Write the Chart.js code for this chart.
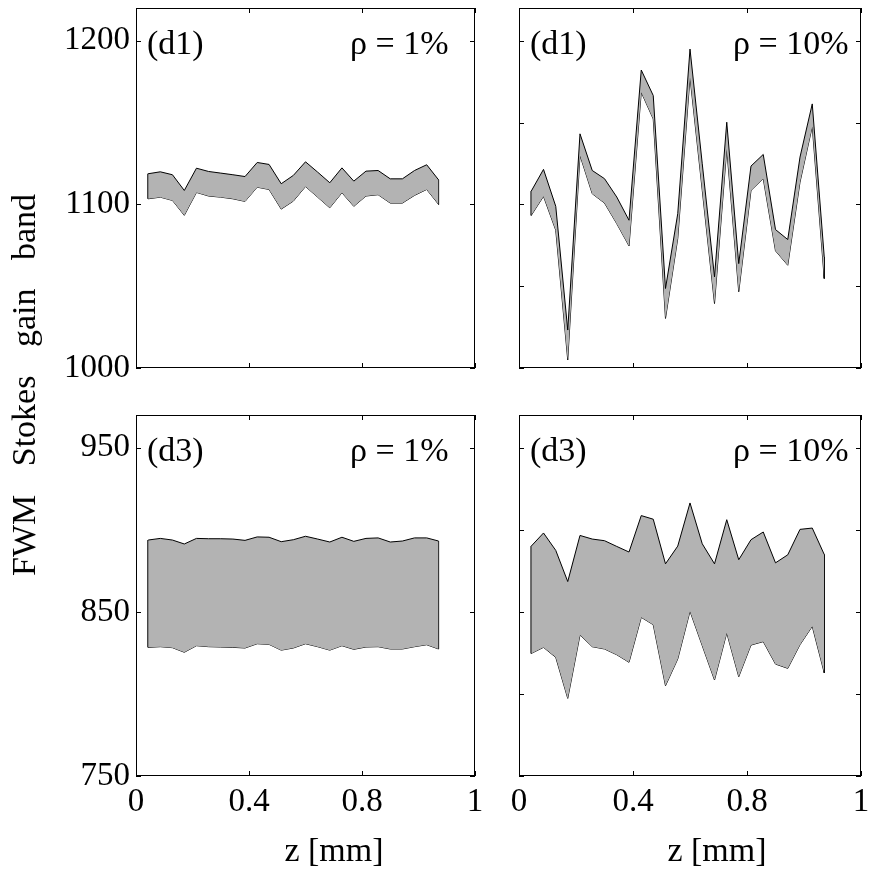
<!DOCTYPE html>
<html>
<head>
<meta charset="utf-8">
<script src="https://cdn.jsdelivr.net/npm/chart.js@4/dist/chart.umd.min.js"></script>
<style>
  body { margin: 0; background: #fff; width: 879px; height: 879px; overflow: hidden; position: relative; }
  canvas { position: absolute; }
  #yTitle {
    position: absolute; left: 24px; top: 385px;
    transform: translate(-50%, -50%) rotate(-90deg);
    font: 34px "Liberation Serif", serif; word-spacing: 20px; white-space: nowrap; color: #000;
  }
</style>
</head>
<body>
<canvas id="d1Rho1"></canvas>
<canvas id="d1Rho10"></canvas>
<canvas id="d3Rho1"></canvas>
<canvas id="d3Rho10"></canvas>
<div id="yTitle">FWM Stokes gain band</div>
<script>
// z positions along the fibre
const zValues = [0.043, 0.086, 0.129, 0.171, 0.214, 0.257, 0.300, 0.343, 0.386, 0.429, 0.471, 0.514, 0.557,
  0.600, 0.643, 0.686, 0.729, 0.771, 0.814, 0.857, 0.900, 0.943, 0.986, 1.029, 1.071];
const zTicks = [0, 0.4, 0.8, 1.2];
const zTickLabels = ['0', '0.4', '0.8', '1'];

// (d1) band edges
const d1Rho1Upper = [1118.7, 1119.9, 1118.1, 1108.5, 1122.1, 1120.1, 1119.1, 1118.1, 1117.0, 1125.6, 1124.4, 1112.6, 1117.7,
  1126.0, 1119.7, 1113.2, 1122.3, 1114.2, 1120.3, 1120.7, 1115.6, 1115.6, 1120.7, 1124.2, 1115.0];
const d1Rho1Lower = [1103.4, 1104.4, 1102.4, 1093.3, 1107.3, 1105.1, 1104.4, 1103.4, 1101.8, 1110.5, 1109.1, 1097.1, 1102.0,
  1110.9, 1104.4, 1097.9, 1107.1, 1098.8, 1105.1, 1105.9, 1100.8, 1100.8, 1105.5, 1109.1, 1100.0];
const d1Rho10Upper = [1108.1, 1121.4, 1098.8, 1023.2, 1143.1, 1120.7, 1115.7, 1104.5, 1090.3, 1182.1, 1166.5, 1048.6, 1094.3,
  1194.9, 1124.8, 1055.7, 1150.2, 1063.8, 1123.4, 1130.5, 1084.6, 1078.5, 1128.9, 1161.4, 1067.9];
const d1Rho10Lower = [1093.3, 1104.9, 1084.2, 1004.9, 1129.9, 1106.5, 1100.8, 1088.2, 1074.6, 1168.5, 1152.2, 1030.3, 1079.1,
  1177.7, 1108.6, 1039.4, 1133.9, 1046.6, 1108.5, 1115.7, 1071.6, 1062.8, 1113.6, 1147.6, 1054.7];

// (d3) band edges
const d3Rho1Upper = [893.8, 894.8, 893.8, 891.4, 894.8, 894.6, 894.6, 894.4, 893.6, 895.7, 895.5, 892.8, 894.0,
  896.1, 894.4, 892.6, 895.5, 893.0, 894.8, 895.1, 892.6, 893.2, 895.1, 895.1, 893.2];
const d3Rho1Lower = [828.4, 828.8, 828.2, 825.4, 829.4, 828.8, 828.6, 828.4, 828.0, 830.6, 830.2, 826.7, 828.0,
  830.6, 828.8, 826.7, 829.4, 827.2, 828.6, 828.8, 827.4, 827.4, 828.8, 830.0, 827.4];
const d3Rho10Upper = [890.1, 898.1, 887.5, 868.5, 896.6, 894.4, 893.4, 889.9, 886.5, 908.7, 906.5, 879.3, 890.1,
  916.4, 891.5, 879.3, 906.2, 881.8, 894.0, 898.7, 879.9, 884.8, 900.3, 901.1, 885.0];
const d3Rho10Lower = [824.7, 828.4, 822.3, 797.3, 835.9, 828.8, 827.4, 823.9, 819.3, 846.7, 842.2, 805.0, 821.3,
  850.4, 829.4, 808.5, 837.2, 810.5, 829.8, 831.9, 818.2, 815.6, 830.0, 841.2, 812.9];

// y axes
const d1Range = [1000, 1220];
const d1LabelTicks = [1000, 1100, 1200];
const d1FineTicks = [1000, 1050, 1100, 1150, 1200];
const d3Range = [750, 970];
const d3LabelTicks = [750, 850, 950];
const d3FineTicks = [750, 800, 850, 900, 950];

const FONT = '"Liberation Serif", serif';
const bandGrey = '#b3b3b3';

// Build the band: upper edge filled down to lower edge, plus both end caps
function bandDatasets(upper, lower) {
  const up = zValues.map((z, i) => ({ x: z, y: upper[i] }));
  const lo = zValues.map((z, i) => ({ x: z, y: lower[i] }));
  const last = zValues.length - 1;
  const line = { borderColor: '#000', borderWidth: 1, pointRadius: 0, tension: 0, fill: false };
  return [
    { ...line, data: up, fill: '+1', backgroundColor: bandGrey },
    { ...line, data: lo },
    { ...line, data: [up[0], lo[0]] },
    { ...line, data: [up[last], lo[last]] }
  ];
}

// Frame, inward ticks and panel text
function framePlugin(yTicks, tagText, rhoText, showXTitle) {
  return {
    id: 'frame',
    afterDatasetsDraw(chart) {
      const { ctx, chartArea: a, scales: { x, y } } = chart;
      ctx.save();
      ctx.strokeStyle = '#000';
      ctx.lineWidth = 1;
      ctx.strokeRect(a.left + 0.5, a.top + 0.5, a.right - a.left - 1, a.bottom - a.top - 1);
      ctx.beginPath();
      zTicks.forEach(v => {
        const px = Math.round(x.getPixelForValue(v)) + 0.5;
        ctx.moveTo(px, a.bottom); ctx.lineTo(px, a.bottom - 5);
        ctx.moveTo(px, a.top); ctx.lineTo(px, a.top + 5);
      });
      yTicks.forEach(v => {
        const py = Math.round(y.getPixelForValue(v)) + 0.5;
        ctx.moveTo(a.left, py); ctx.lineTo(a.left + 5, py);
        ctx.moveTo(a.right, py); ctx.lineTo(a.right - 5, py);
      });
      ctx.stroke();

      ctx.fillStyle = '#000';
      ctx.font = '34px ' + FONT;
      ctx.textBaseline = 'alphabetic';
      ctx.textAlign = 'left';
      ctx.fillText(tagText, a.left + 11, a.top + 46);
      ctx.fillText(rhoText, a.left + 214, a.top + 46);
      if (showXTitle) {
        ctx.textAlign = 'center';
        ctx.fillText('z [mm]', a.left + 198, a.bottom + 85);
      }
      ctx.restore();
    }
  };
}

// area = plot frame in page pixels; yAxisW / xAxisH = room kept for tick labels
function makePanel(id, area, pad, cfg) {
  const canvas = document.getElementById(id);
  canvas.width = area.R - area.L + pad.left + pad.right + cfg.yAxisW;
  canvas.height = area.B - area.T + pad.top + pad.bottom + cfg.xAxisH;
  canvas.style.left = (area.L - pad.left - cfg.yAxisW) + 'px';
  canvas.style.top = (area.T - pad.top) + 'px';

  return new Chart(canvas.getContext('2d'), {
    type: 'line',
    data: { datasets: bandDatasets(cfg.upper, cfg.lower) },
    options: {
      responsive: false,
      animation: false,
      devicePixelRatio: 1,
      layout: { padding: pad },
      plugins: { legend: { display: false }, tooltip: { enabled: false } },
      scales: {
        x: {
          type: 'linear', min: 0, max: 1.2,
          grid: { display: false, drawTicks: false },
          border: { display: false },
          afterBuildTicks: s => { s.ticks = zTicks.map(v => ({ value: v })); },
          afterFit: s => { s.height = cfg.xAxisH; },
          ticks: {
            display: cfg.showX, padding: 7, color: '#000', autoSkip: false, maxRotation: 0,
            font: { family: FONT, size: 33 },
            callback: (v, i) => zTickLabels[i]
          }
        },
        y: {
          type: 'linear', min: cfg.range[0], max: cfg.range[1],
          grid: { display: false, drawTicks: false },
          border: { display: false },
          afterBuildTicks: s => { s.ticks = cfg.labelTicks.map(v => ({ value: v })); },
          afterFit: s => { s.width = cfg.yAxisW; },
          ticks: {
            display: cfg.showY, padding: 6, color: '#000', autoSkip: false,
            font: { family: FONT, size: 33 },
            callback: v => String(v)
          }
        }
      }
    },
    plugins: [framePlugin(cfg.tickMarks, cfg.tag, cfg.rho, cfg.showX)]
  });
}

makePanel('d1Rho1', { L: 136, T: 8, R: 475, B: 368 }, { left: 0, top: 30, right: 30, bottom: 30 }, {
  upper: d1Rho1Upper, lower: d1Rho1Lower, range: d1Range, labelTicks: d1LabelTicks, tickMarks: d1LabelTicks,
  showX: false, showY: true, yAxisW: 136, xAxisH: 0, tag: '(d1)', rho: 'ρ = 1%'
});
makePanel('d1Rho10', { L: 519, T: 8, R: 861, B: 368 }, { left: 30, top: 30, right: 18, bottom: 30 }, {
  upper: d1Rho10Upper, lower: d1Rho10Lower, range: d1Range, labelTicks: d1FineTicks, tickMarks: d1FineTicks,
  showX: false, showY: false, yAxisW: 0, xAxisH: 0, tag: '(d1)', rho: 'ρ = 10%'
});
makePanel('d3Rho1', { L: 136, T: 415, R: 475, B: 776 }, { left: 0, top: 30, right: 30, bottom: 0 }, {
  upper: d3Rho1Upper, lower: d3Rho1Lower, range: d3Range, labelTicks: d3LabelTicks, tickMarks: d3LabelTicks,
  showX: true, showY: true, yAxisW: 136, xAxisH: 103, tag: '(d3)', rho: 'ρ = 1%'
});
makePanel('d3Rho10', { L: 519, T: 415, R: 861, B: 776 }, { left: 30, top: 30, right: 18, bottom: 0 }, {
  upper: d3Rho10Upper, lower: d3Rho10Lower, range: d3Range, labelTicks: d3FineTicks, tickMarks: d3FineTicks,
  showX: true, showY: false, yAxisW: 0, xAxisH: 103, tag: '(d3)', rho: 'ρ = 10%'
});
</script>
</body>
</html>
